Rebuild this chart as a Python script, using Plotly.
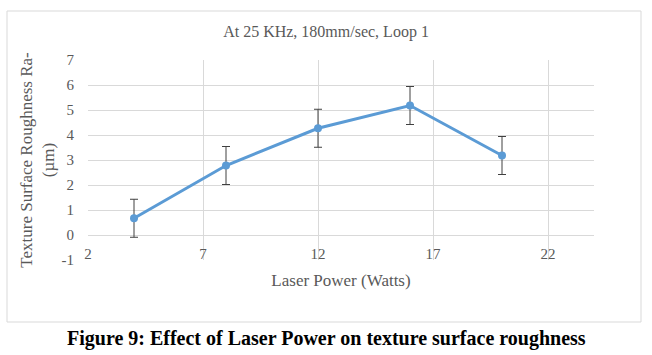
import plotly.graph_objects as go

laser_power = [4, 8, 12, 16, 20]
roughness = [0.67, 2.78, 4.27, 5.18, 3.18]
roughness_err = [0.76, 0.76, 0.76, 0.76, 0.76]
x_ticks = [2, 7, 12, 17, 22]
y_ticks = [-1, 0, 1, 2, 3, 4, 5, 6, 7]

FONT = "Liberation Serif"
GRAY = "#595959"
GRID = "#D9D9D9"

fig = go.Figure()
fig.add_trace(go.Scatter(
    x=laser_power, y=roughness, mode="lines+markers",
    line=dict(color="#5B9BD5", width=3),
    marker=dict(color="#5B9BD5", size=8, symbol="circle"),
    error_y=dict(type="data", array=roughness_err, visible=True,
                 color="#404040", thickness=1, width=4),
    showlegend=False,
))

W, H = 652, 355
L, R, T, B = 88, 58, 60, 95
plot_h = H - T - B

fig.update_layout(
    width=W, height=H,
    margin=dict(l=L, r=R, t=T, b=B, autoexpand=False),
    paper_bgcolor="white", plot_bgcolor="white",
    font=dict(family=FONT, color=GRAY, size=15),
    title=dict(text="At 25 KHz, 180mm/sec, Loop 1", x=0.5, xanchor="center",
               y=1 - 31 / H, yanchor="middle",
               font=dict(family=FONT, size=16, color=GRAY)),
    xaxis=dict(range=[2, 24], tickvals=x_ticks, ticktext=[str(v) for v in x_ticks],
               showgrid=True, gridcolor=GRID, gridwidth=1, zeroline=False,
               showline=False, ticks="", anchor="free", automargin=False,
               position=(0 - (-1)) / 8, ticklabelstandoff=8,
               tickfont=dict(family=FONT, size=15, color=GRAY),
               title=dict(text="Laser Power (Watts)", standoff=13,
                          font=dict(family=FONT, size=17, color=GRAY))),
    yaxis=dict(range=[-1, 7], tickvals=y_ticks, ticktext=[str(v) for v in y_ticks],
               showgrid=True, gridcolor=GRID, gridwidth=1, zeroline=False,
               showline=False, ticks="", ticklabelstandoff=13, automargin=False,
               tickfont=dict(family=FONT, size=15, color=GRAY),
               title=dict(text="Texture Surface Roughness Ra-<br>(µm)", standoff=2,
                          font=dict(family=FONT, size=17, color=GRAY))),
)

# chart border
fig.add_shape(type="rect", xref="paper", yref="paper",
              x0=(7 - L) / (W - L - R), x1=(641 - L) / (W - L - R),
              y0=(H - B - 322) / plot_h, y1=(H - B - 11) / plot_h,
              line=dict(color=GRID, width=1), fillcolor="rgba(0,0,0,0)", layer="below")

# caption
fig.add_annotation(text="<b>Figure 9: Effect of Laser Power on texture surface roughness</b>",
                   xref="paper", yref="paper", x=(326 - L) / (W - L - R),
                   y=(H - B - 338) / plot_h, xanchor="center", yanchor="middle",
                   showarrow=False, font=dict(family=FONT, size=20, color="black"))

fig.write_html("out.html", config={"displayModeBar": False},
               post_script="document.body.style.margin='0';")
